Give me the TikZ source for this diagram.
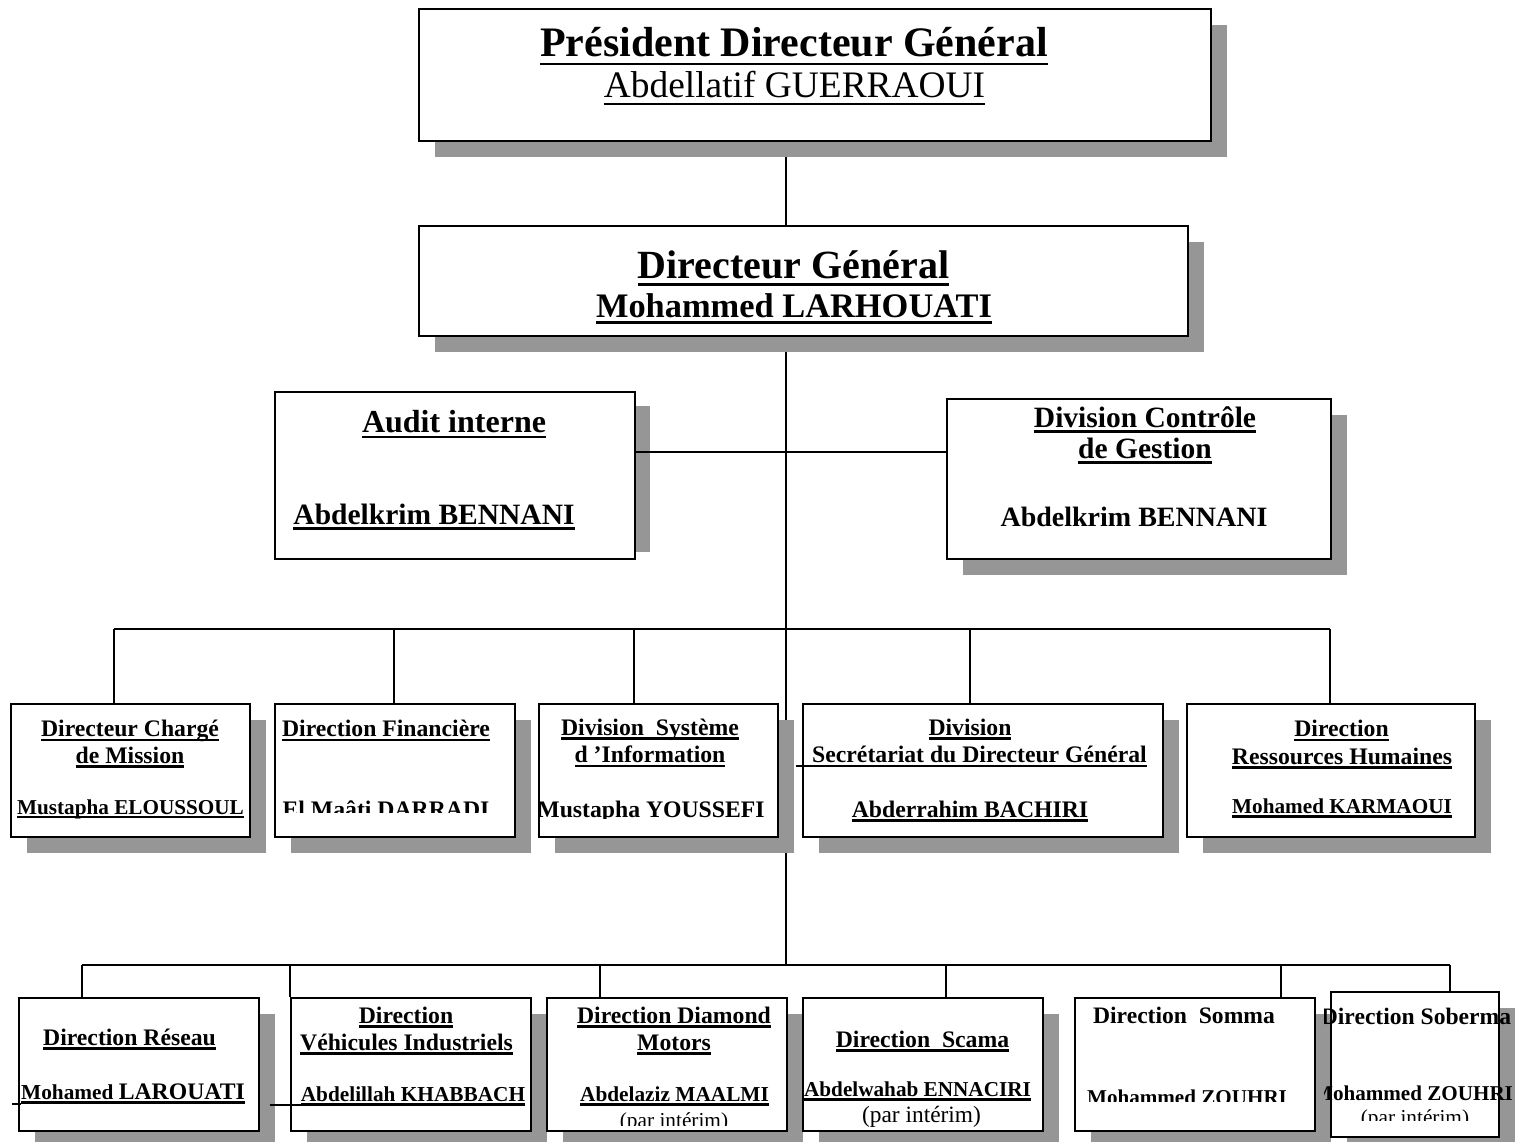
\documentclass[tikz,border=0pt]{standalone}
\usepackage{fontspec}
\setmainfont{Liberation Serif}
\usetikzlibrary{shadows}
\definecolor{shgray}{HTML}{969696}
\newcommand\myB[1]{\fontsize{#1}{#1}\bfseries}
\newcommand\myR[1]{\fontsize{#1}{#1}\mdseries\selectfont}
\newcommand\myul[1]{\leavevmode\setbox0\hbox{#1}\rlap{\rule[-0.2em]{\wd0}{2.6pt}}\box0}
\tikzset{
  orgbox/.style={draw, line width=2.2pt, fill=white, anchor=north west, inner sep=0pt,
    drop shadow={shadow xshift=16pt, shadow yshift=-16pt, fill=shgray, opacity=1}},
  plainbox/.style={draw, line width=2.2pt, fill=white, anchor=north west, inner sep=0pt},
  ln/.style={line width=2pt},
  tx/.style={anchor=base, inner sep=0pt},
}
\begin{document}
\begin{tikzpicture}[x=1pt,y=-1pt]
\useasboundingbox[fill=white] (0,0) rectangle (1525,1142);
% ---------- connector coordinates
\coordinate (tx) at (786,0);
\coordinate (j1) at (786,629);
\coordinate (j2) at (786,965);
\coordinate (h1a) at (114,629);
\coordinate (h1b) at (394,629);
\coordinate (h1c) at (634,629);
\coordinate (h1d) at (970,629);
\coordinate (h1e) at (1330,629);
\coordinate (h2a) at (82,965);
\coordinate (h2b) at (290,965);
\coordinate (h2c) at (600,965);
\coordinate (h2d) at (946,965);
\coordinate (h2e) at (1281,965);
\coordinate (h2f) at (1450,965);
% ---------- lines (drawn first, boxes and shadows cover them)
\draw[ln] (786,140) -- (786,225);
\draw[ln] (786,335) -- (j2);
\draw[ln] (h1a) -- (h1e);
\draw[ln] (h1a) -- (114,703);
\draw[ln] (h1b) -- (394,703);
\draw[ln] (h1c) -- (634,703);
\draw[ln] (h1d) -- (970,703);
\draw[ln] (h1e) -- (1330,703);
\draw[ln] (h2a) -- (h2f);
\draw[ln] (h2a) -- (82,997);
\draw[ln] (h2b) -- (290,997);
\draw[ln] (h2c) -- (600,997);
\draw[ln] (h2d) -- (946,997);
\draw[ln] (h2e) -- (1281,997);
\draw[ln] (h2f) -- (1450,991);
% ---------- boxes
\node[orgbox, minimum width=792pt, minimum height=132pt] (pdg) at (418,8) {};
\node[orgbox, minimum width=769pt, minimum height=110pt] (dg) at (418,225) {};
\fill[shgray] (634,406) rectangle (650,552);
\node[plainbox, minimum width=360pt, minimum height=167pt] (audit) at (274,391) {};
\node[orgbox, minimum width=384pt, minimum height=160pt] (dcg) at (946,398) {};
\draw[ln] (audit.east |- 0,452) -- (dcg.west |- 0,452);
\node[orgbox, minimum width=239pt, minimum height=133pt] (b1) at (10,703) {};
\node[orgbox, minimum width=240pt, minimum height=133pt] (b2) at (274,703) {};
\node[orgbox, minimum width=239pt, minimum height=133pt] (b3) at (538,703) {};
\node[orgbox, minimum width=360pt, minimum height=133pt] (b4) at (802,703) {};
\node[orgbox, minimum width=288pt, minimum height=133pt] (b5) at (1186,703) {};
\node[orgbox, minimum width=240pt, minimum height=133pt] (c1) at (18,997) {};
\node[orgbox, minimum width=240pt, minimum height=133pt] (c2) at (290,997) {};
\node[orgbox, minimum width=240pt, minimum height=133pt] (c3) at (546,997) {};
\node[orgbox, minimum width=240pt, minimum height=133pt] (c4) at (802,997) {};
\node[orgbox, minimum width=240pt, minimum height=133pt] (c5) at (1074,997) {};
\node[orgbox, minimum width=168pt, minimum height=145pt] (c6) at (1330,991) {};
% ---------- texts: top
\node[tx, font=\myB{42}] (pdg1) at (794,57) {\myul{Président Directeur Général}};
\node[tx, font=\myR{37.4}] (pdg2) at (794.5,98) {\myul{Abdellatif GUERRAOUI}};
\node[tx, font=\myB{40}] (dg1) at (793.5,278) {\myul{Directeur Général}};
\node[tx, font=\myB{34.4}] (dg2) at (794,317) {\myul{Mohammed LARHOUATI}};
\node[tx, font=\myB{32}] (au1) at (454,432) {\myul{Audit interne}};
\node[tx, font=\myB{29.5}] (au2) at (434,524) {\myul{Abdelkrim BENNANI}};
\node[tx, font=\myB{29.5}] (dc1) at (1145,427) {\myul{Division Contrôle}};
\node[tx, font=\myB{29.5}] (dc2) at (1145,458) {\myul{de Gestion}};
\node[tx, font=\myB{28}] (dc3) at (1134,526) {Abdelkrim BENNANI};
% ---------- texts: row 1
\node[tx, font=\myB{23.7}] (b1a) at (130,736.5) {\myul{Directeur Chargé}};
\node[tx, font=\myB{23.7}] (b1b) at (130,763) {\myul{de Mission}};
\node[tx, font=\myB{21.2}] (b1c) at (130.5,814) {\myul{Mustapha ELOUSSOUL}};
\node[tx, font=\myB{23.7}] (b2a) at (386,736.5) {\myul{Direction Financière}};
\begin{scope}
\clip (274,703) rectangle (514,812);
\node[tx, font=\myB{23.7}] (b2b) at (386,817) {El Maâti DARRADI};
\end{scope}
\node[tx, font=\myB{23.7}] (b3a) at (650,735) {\myul{Division~ Système}};
\node[tx, font=\myB{23.7}] (b3b) at (650,762.7) {\myul{d ’Information}};
\begin{scope}
\clip (538,703) rectangle (777,818);
\node[tx, font=\myB{23.7}] (b3c) at (651,817) {Mustapha YOUSSEFI};
\end{scope}
\node[tx, font=\myB{23.7}] (b4a) at (970,735) {\myul{Division}};
\node[tx, font=\myB{23.7}] (b4b) at (979.5,762.7) {\myul{Secrétariat du Directeur Général}};
\draw[ln] (796,766) -- (b4b.base west |- 0,766);
\node[tx, font=\myB{23.7}] (b4c) at (970,817) {\myul{Abderrahim BACHIRI}};
\node[tx, font=\myB{23.7}] (b5a) at (1341.5,736.7) {\myul{Direction}};
\node[tx, font=\myB{23.7}] (b5b) at (1342,764) {\myul{Ressources Humaines}};
\node[tx, font=\myB{21.2}] (b5c) at (1342,813.3) {\myul{Mohamed KARMAOUI}};
% ---------- texts: row 2
\node[tx, font=\myB{23.7}] (c1a) at (129.5,1045) {\myul{Direction Réseau}};
\node[tx, font=\myB{23.7}] (c1b) at (133,1099) {\myul{{\fontsize{21.3}{21.3}\selectfont Mohamed }LAROUATI}};
\draw[ln] (12,1103.5) -- (c1b.base west |- 0,1103.5);
\node[tx, font=\myB{23.7}] (c2a) at (406,1023.3) {\myul{Direction}};
\node[tx, font=\myB{23.7}] (c2b) at (406.5,1050) {\myul{Véhicules Industriels}};
\node[tx, font=\myB{21.3}] (c2c) at (413,1101.7) {\myul{Abdelillah KHABBACH}};
\draw[ln] (270,1104.5) -- (c2c.base west |- 0,1104.5);
\node[tx, font=\myB{23.7}] (c3a) at (674,1023) {\myul{Direction Diamond}};
\node[tx, font=\myB{23.7}] (c3b) at (674,1050) {\myul{Motors}};
\node[tx, font=\myB{21.3}] (c3c) at (674.5,1101.7) {\myul{Abdelaziz MAALMI}};
\begin{scope}
\clip (546,997) rectangle (786,1125.7);
\node[tx, font=\myR{21.3}] (c3d) at (674,1127) {(par intérim)};
\end{scope}
\node[tx, font=\myB{23.7}] (c4a) at (922.5,1047.3) {\myul{Direction~ Scama}};
\node[tx, font=\myB{21.2}] (c4b) at (917.5,1096.7) {\myul{Abdelwahab ENNACIRI}};
\node[tx, font=\myR{23.4}] (c4c) at (921.5,1122.7) {(par intérim)};
\node[tx, font=\myB{23.6}] (c5a) at (1184,1023.3) {Direction~ Somma};
\begin{scope}
\clip (1074,997) rectangle (1314,1101.7);
\node[tx, font=\myB{21.1}] (c5b) at (1187,1104) {Mohammed ZOUHRI};
\end{scope}
\begin{scope}
\clip (1324,991) rectangle (1525,1120);
\node[tx, font=\myB{23.6}] (c6a) at (1416,1024) {Direction Soberma};
\node[tx, font=\myB{21.1}] (c6b) at (1413,1100) {Mohammed ZOUHRI};
\node[tx, font=\myR{21.3}] (c6c) at (1415,1124) {(par intérim)};
\end{scope}
\end{tikzpicture}
\end{document}
